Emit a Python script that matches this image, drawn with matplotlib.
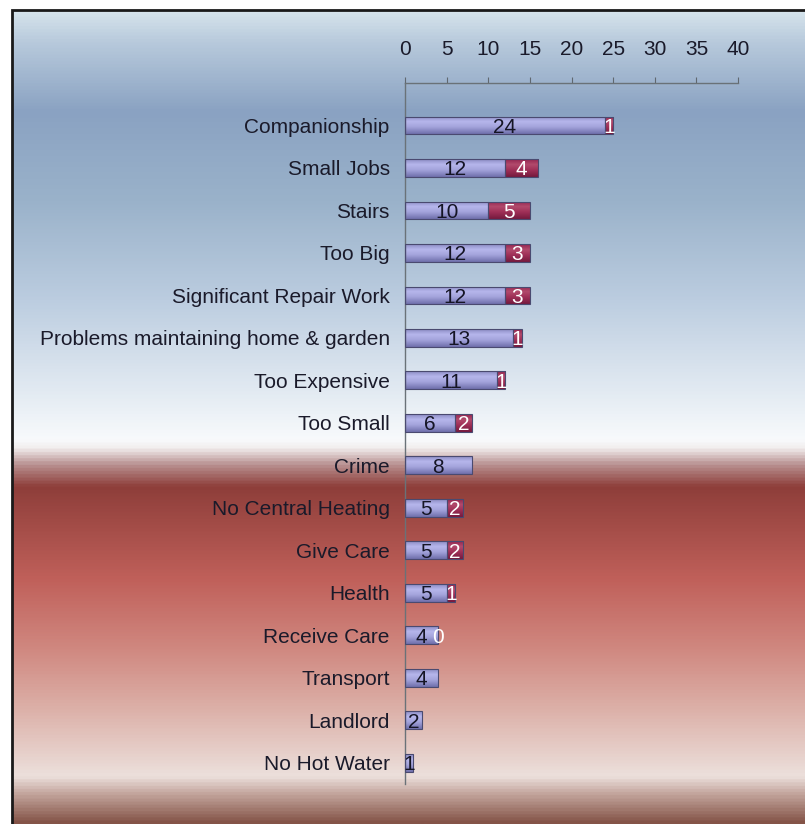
import numpy as np
import matplotlib.pyplot as plt
from matplotlib.colors import LinearSegmentedColormap
from matplotlib.patches import Rectangle

# données
categories = ["Companionship", "Small Jobs", "Stairs", "Too Big", "Significant Repair Work",
              "Problems maintaining home & garden", "Too Expensive", "Too Small", "Crime",
              "No Central Heating", "Give Care", "Health", "Receive Care", "Transport",
              "Landlord", "No Hot Water"]
primary = [24, 12, 10, 12, 12, 13, 11, 6, 8, 5, 5, 5, 4, 4, 2, 1]
secondary = [1, 4, 5, 3, 3, 1, 1, 2, None, 2, 2, 1, 0, None, None, None]
xticks = list(range(0, 41, 5))

plt.rcParams['font.family'] = ['Liberation Sans', 'DejaVu Sans']

fig = plt.figure(figsize=(8.05, 8.24), dpi=100)
fig.patch.set_facecolor('white')

# fond dégradé (bleu en haut, rouge en bas)
bg = fig.add_axes([12 / 805, 0, 1 - 12 / 805, 1 - 10 / 824])
stops = [(10, '#d6e4ec'), (40, '#b8cadc'), (110, '#8aa2c2'), (200, '#9ab2ca'),
         (300, '#bccde0'), (390, '#e2eaf2'), (440, '#f8fafc'), (448, '#f2eeee'),
         (465, '#b89090'), (487, '#8e3e3a'), (580, '#c0605a'), (650, '#d08880'),
         (710, '#dcb0a8'), (778, '#ece0dc'), (795, '#c4a69e'), (824, '#845448')]
y0, y1 = 10, 824
bg_cmap = LinearSegmentedColormap.from_list('bg', [((y - y0) / (y1 - y0), c) for y, c in stops])
grad = np.linspace(0, 1, 1600).reshape(-1, 1)
bg.imshow(grad, aspect='auto', cmap=bg_cmap, extent=(0, 1, 1, 0), interpolation='bilinear')
bg.axis('off')
bg.set_zorder(0)

fig.add_artist(Rectangle((12 / 805, -0.05), 1.1, (1 - 10 / 824) + 0.05,
                         transform=fig.transFigure, fill=False, ec='#1a1a1a', lw=2))

ax = fig.add_axes([405 / 805, 1 - 784 / 824, (738 - 405) / 805, (784 - 83) / 824])
ax.set_zorder(1)
ax.patch.set_alpha(0)

pos = np.arange(len(categories))
h = 0.42
b1 = ax.barh(pos, primary, height=h, color='#a0a0dc', edgecolor='#4a4a70', lw=0.8)
sec_idx = [i for i, s in enumerate(secondary) if s]
b2 = ax.barh(pos[sec_idx], [secondary[i] for i in sec_idx], left=[primary[i] for i in sec_idx],
             height=h, color='#a02c58', edgecolor='#4a4a70', lw=0.8)

# effet cylindre
lav = LinearSegmentedColormap.from_list('lav', [(0, '#8c8cc4'), (0.3, '#b6b6ec'),
                                                (0.6, '#a4a4dc'), (1, '#7070ac')])
mar = LinearSegmentedColormap.from_list('mar', [(0, '#942650'), (0.3, '#b24a6c'),
                                                (0.6, '#a03058'), (1, '#761a3e')])
shade = np.linspace(0, 1, 50).reshape(-1, 1)
for bars, cm in [(b1, lav), (b2, mar)]:
    for p in bars:
        x, y, w, hh = p.get_x(), p.get_y(), p.get_width(), p.get_height()
        im = ax.imshow(shade, cmap=cm, aspect='auto', extent=(x, x + w, y + hh, y), zorder=2)
        im.set_clip_path(p)
        p.set_facecolor('none')
        p.set_zorder(3)

for i, v in enumerate(primary):
    ax.text(v / 2, i, str(v), ha='center', va='center_baseline', color='#151525',
            fontsize=15, zorder=4)
    s = secondary[i]
    if s is not None:
        ax.text(v + s / 2, i, str(s), ha='center', va='center_baseline', color='white',
                fontsize=15, zorder=4)

ax.set_xlim(0, 40)
ax.set_ylim(len(categories) - 0.5, -1.0)
ax.xaxis.tick_top()
ax.set_xticks(xticks)
ax.tick_params(axis='x', direction='out', length=4, pad=13, labelsize=15,
               color='#606870', labelcolor='#1a1a2a')
ax.set_yticks(pos, categories)
ax.tick_params(axis='y', length=0, pad=11, labelsize=15, labelcolor='#1a1a2a')
for side in ['right', 'bottom']:
    ax.spines[side].set_visible(False)
for side in ['top', 'left']:
    ax.spines[side].set_color('#6a7278')
    ax.spines[side].set_linewidth(1)

plt.savefig("out.png", dpi=100)
